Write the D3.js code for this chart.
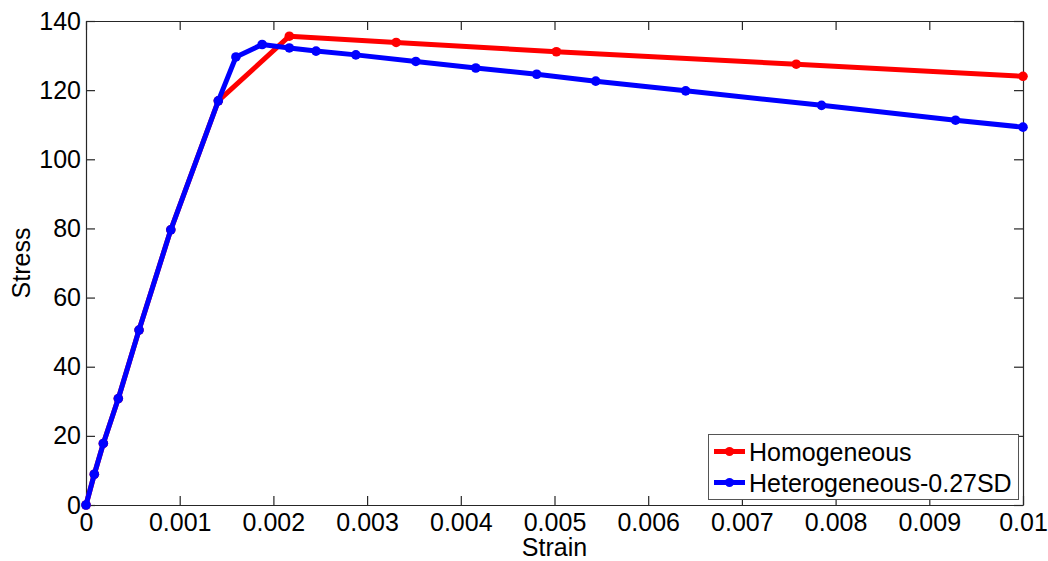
<!DOCTYPE html>
<html><head><meta charset="utf-8">
<script src="https://cdn.jsdelivr.net/npm/d3@7"></script>
<style>body{margin:0;background:#fff;} svg{display:block;font-family:"Liberation Sans",Arial,sans-serif;}</style>
</head><body>
<svg id="c" width="1048" height="561"></svg>
<script>
const homoStrain = [0, 0.0000886, 0.000185, 0.000345, 0.000566, 0.000905, 0.001412, 0.00217, 0.00331, 0.00502, 0.00758, 0.01];
const homoStress = [0, 8.9, 17.8, 30.8, 50.6, 79.6, 116.9, 135.6, 133.8, 131.1, 127.5, 124.0];
const hetStrain = [0, 0.0000886, 0.000185, 0.000345, 0.000566, 0.000905, 0.001412, 0.0016, 0.00188, 0.00217, 0.002455, 0.00288, 0.00352, 0.00416, 0.00481, 0.00544, 0.0064, 0.00785, 0.00928, 0.01];
const hetStress = [0, 8.9, 17.8, 30.8, 50.6, 79.6, 116.9, 129.6, 133.2, 132.2, 131.3, 130.2, 128.3, 126.4, 124.6, 122.6, 119.8, 115.6, 111.3, 109.3];
const xTicks = [0,0.001,0.002,0.003,0.004,0.005,0.006,0.007,0.008,0.009,0.01];
const xTickLabels = ["0","0.001","0.002","0.003","0.004","0.005","0.006","0.007","0.008","0.009","0.01"];
const yTicks = [0,20,40,60,80,100,120,140];
const seriesNames = ["Homogeneous","Heterogeneous-0.27SD"];
const seriesColors = ["#ff0000","#0000ff"];

const svg = d3.select("#c");
const L=86, R=1023, T=21, B=505;
const x = d3.scaleLinear().domain([0,0.01]).range([L,R]);
const y = d3.scaleLinear().domain([0,140]).range([B,T]);
const axisColor="#262626";
const fs = 25;

svg.append("rect").attr("x",L).attr("y",T).attr("width",R-L).attr("height",B-T).attr("fill","#fff");

const tickLen=9;
const gx = svg.append("g").attr("transform",`translate(0,${B})`)
  .call(d3.axisBottom(x).tickValues(xTicks).tickFormat((d,i)=>xTickLabels[i]).tickSizeInner(-tickLen).tickSizeOuter(0).tickPadding(8));
const gxt = svg.append("g").attr("transform",`translate(0,${T})`)
  .call(d3.axisTop(x).tickValues(xTicks).tickFormat("").tickSizeInner(-tickLen).tickSizeOuter(0));
const gy = svg.append("g").attr("transform",`translate(${L},0)`)
  .call(d3.axisLeft(y).tickValues(yTicks).tickSizeInner(-tickLen).tickSizeOuter(0).tickPadding(5));
const gyr = svg.append("g").attr("transform",`translate(${R},0)`)
  .call(d3.axisRight(y).tickValues(yTicks).tickFormat("").tickSizeInner(-tickLen).tickSizeOuter(0));
[gx,gxt,gy,gyr].forEach(g=>{
  g.selectAll("path.domain").attr("stroke",axisColor).attr("stroke-width",1.2);
  g.selectAll(".tick line").attr("stroke",axisColor).attr("stroke-width",1.2);
  g.selectAll("text").attr("fill","#000").style("font-size",fs+"px").style("font-family","'Liberation Sans',Arial,sans-serif");
});
gx.selectAll("text").attr("dy","0.71em");

const line = d3.line().x(d=>x(d[0])).y(d=>y(d[1]));
const data = [
  homoStrain.map((s,i)=>[s,homoStress[i]]),
  hetStrain.map((s,i)=>[s,hetStress[i]])
];
data.forEach((d,k)=>{
  svg.append("path").datum(d).attr("d",line).attr("fill","none")
    .attr("stroke",seriesColors[k]).attr("stroke-width",5).attr("stroke-linejoin","round");
  svg.append("g").selectAll("circle").data(d).join("circle")
    .attr("cx",p=>x(p[0])).attr("cy",p=>y(p[1])).attr("r",4.8).attr("fill",seriesColors[k]);
});

svg.append("text").attr("x",(L+R)/2).attr("y",556).attr("text-anchor","middle")
  .style("font-size",fs+"px").text("Strain");
svg.append("text").attr("transform",`translate(30,${(T+B)/2}) rotate(-90)`).attr("text-anchor","middle")
  .style("font-size",fs+"px").text("Stress");

const lg = svg.append("g");
lg.append("rect").attr("x",708.5).attr("y",434.5).attr("width",310).attr("height",65)
  .attr("fill","#fff").attr("stroke","#555").attr("stroke-width",1);
seriesNames.forEach((n,i)=>{
  const yy = 451.5 + i*31;
  lg.append("line").attr("x1",714).attr("x2",745).attr("y1",yy).attr("y2",yy)
    .attr("stroke",seriesColors[i]).attr("stroke-width",5);
  lg.append("circle").attr("cx",729.5).attr("cy",yy).attr("r",4.5).attr("fill",seriesColors[i]);
  lg.append("text").attr("x",749).attr("y",yy).attr("dy","0.36em").style("font-size",fs+"px").text(n);
});
</script>
</body></html>
